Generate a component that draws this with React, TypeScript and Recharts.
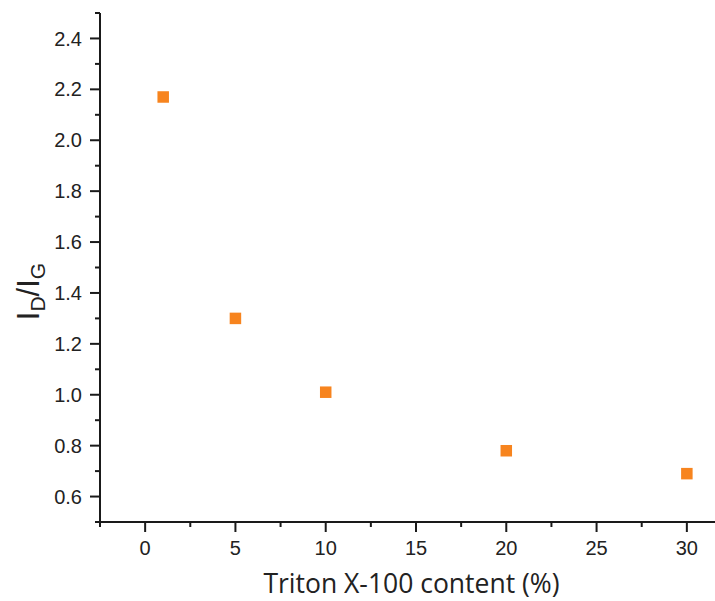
import React from 'react';
import { ScatterChart, Scatter, XAxis, YAxis } from 'recharts';

const tritonContent = [1, 5, 10, 20, 30];
const idIgRatio = [2.17, 1.3, 1.01, 0.78, 0.69];

const xTicks = [-2.5, 0, 2.5, 5, 7.5, 10, 12.5, 15, 17.5, 20, 22.5, 25, 27.5, 30, 32.5];
const xMajor = [0, 5, 10, 15, 20, 25, 30];
const yTicks = [0.5, 0.6, 0.7, 0.8, 0.9, 1.0, 1.1, 1.2, 1.3, 1.4, 1.5, 1.6, 1.7, 1.8, 1.9, 2.0, 2.1, 2.2, 2.3, 2.4, 2.5];
const yMajor = [0.6, 0.8, 1.0, 1.2, 1.4, 1.6, 1.8, 2.0, 2.2, 2.4];
const topTicks = [0, 0.5, 1, 1.5, 2, 2.5, 3, 3.5, 4, 4.5, 5];
const topMajor = [0, 1, 2, 3, 4, 5];

const data = tritonContent.map((x, i) => ({ x, y: idIgRatio[i] }));

const AXIS = '#1a1a1a';
const FONT = '"Liberation Sans", Arial, sans-serif';
const TICK_FS = 20;
const MARK = 11.5;
const isIn = (arr: number[], v: number) => arr.some((a) => Math.abs(a - v) < 1e-6);

const BottomTick = (props: any) => {
  const { x, y, payload } = props;
  const axisY = y - 20;
  const major = isIn(xMajor, payload.value);
  return (
    <g>
      <line x1={x} x2={x} y1={axisY} y2={axisY + (major ? 10 : 5)} stroke={AXIS} strokeWidth={2} />
      {major && (
        <text x={x} y={y - 1} dy="0.71em" textAnchor="middle" style={{ fontSize: TICK_FS, fontFamily: FONT }} fill="#222">
          {payload.value}
        </text>
      )}
    </g>
  );
};

const LeftTick = (props: any) => {
  const { x, y, payload } = props;
  const axisX = x + 18;
  const major = isIn(yMajor, payload.value);
  return (
    <g>
      <line x1={axisX} x2={axisX - (major ? 10 : 5)} y1={y} y2={y} stroke={AXIS} strokeWidth={2} />
      {major && (
        <text x={x} y={y} dy="0.355em" textAnchor="end" style={{ fontSize: TICK_FS, fontFamily: FONT }} fill="#222">
          {payload.value.toFixed(1)}
        </text>
      )}
    </g>
  );
};

const TopTick = (props: any) => {
  const { x, y, payload } = props;
  const axisY = y - 10 - 4;
  const major = isIn(topMajor, payload.value);
  return <line x1={x} x2={x} y1={axisY} y2={axisY + (major ? 10 : 5)} stroke={AXIS} strokeWidth={2} />;
};

const XTitle = (props: any) => {
  const vb = props.viewBox || { x: 100, y: 522, width: 632, height: 79 };
  return (
    <text
      x={vb.x + vb.width / 2 - 4.5}
      y={vb.y + vb.height - 8}
      textAnchor="middle"
      style={{ fontSize: 26.5, fontFamily: '"Open Sans", sans-serif' }}
      fill="#222"
    >
      Triton X-100 content (%)
    </text>
  );
};

const YTitle = (props: any) => {
  const vb = props.viewBox || { x: 0, y: 13, width: 100, height: 509 };
  const cy = vb.y + vb.height / 2 + 24;
  return (
    <text
      transform={`translate(39, ${cy}) rotate(-90)`}
      textAnchor="middle"
      style={{ fontSize: 31, fontFamily: FONT }}
      fill="#222"
    >
      I<tspan style={{ fontSize: 21 }} dy={6}>D</tspan>
      <tspan dy={-6}>/I</tspan>
      <tspan style={{ fontSize: 21 }} dy={6}>G</tspan>
    </text>
  );
};

const SquareMark = (props: any) => {
  const { cx, cy, fill } = props;
  return <rect x={cx - MARK / 2} y={cy - MARK / 2} width={MARK} height={MARK} fill={fill} />;
};

export default function App() {
  return (
    <div style={{ position: 'absolute', left: 0, top: 0, width: 715, height: 601, overflow: 'hidden', background: '#fff' }}>
      <ScatterChart width={740} height={601} margin={{ top: 13, right: 8, bottom: 0, left: 0 }}>
        <XAxis
          xAxisId="main"
          dataKey="x"
          type="number"
          domain={[-2.5, 32.5]}
          ticks={xTicks}
          interval={0}
          height={79}
          tickSize={10}
          tickMargin={10}
          tickLine={false}
          tick={<BottomTick />}
          axisLine={{ stroke: AXIS, strokeWidth: 2 }}
          allowDataOverflow
          label={<XTitle />}
        />
        <XAxis
          xAxisId="top"
          orientation="top"
          type="number"
          domain={[0, 5]}
          ticks={topTicks}
          interval={0}
          height={0}
          mirror
          tickSize={10}
          tickMargin={4}
          tickLine={false}
          tick={<TopTick />}
          axisLine={{ stroke: AXIS, strokeWidth: 2 }}
          allowDataOverflow
        />
        <YAxis
          dataKey="y"
          type="number"
          domain={[0.5, 2.5]}
          ticks={yTicks}
          interval={0}
          width={100}
          tickSize={10}
          tickMargin={8}
          tickLine={false}
          tick={<LeftTick />}
          axisLine={{ stroke: AXIS, strokeWidth: 2 }}
          allowDataOverflow
          label={<YTitle />}
        />
        <Scatter xAxisId="main" data={data} shape={<SquareMark />} fill="#f7841e" isAnimationActive={false} />
      </ScatterChart>
    </div>
  );
}
